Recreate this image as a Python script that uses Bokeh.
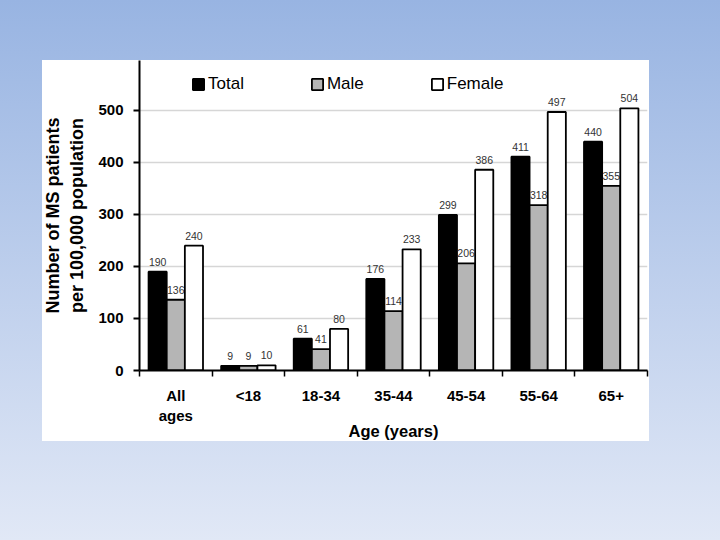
from bokeh.plotting import figure
from bokeh.models import Range1d, FixedTicker, Legend, LegendItem, ColumnDataSource, GlobalInlineStyleSheet
from bokeh.core.properties import value
from bokeh.embed import file_html
from bokeh.resources import INLINE

# ---- data ----
categories = ["All\nages", "<18", "18-34", "35-44", "45-54", "55-64", "65+"]
total = [190, 9, 61, 176, 299, 411, 440]
male = [136, 9, 41, 114, 206, 318, 355]
female = [240, 10, 80, 233, 386, 497, 504]
y_ticks = [0, 100, 200, 300, 400, 500]
series_names = ["Total", "Male", "Female"]

FONT = "Liberation Sans"
n = len(categories)
centers = [i + 0.5 for i in range(n)]
bar_w = 0.25
offsets = [-bar_w, 0.0, bar_w]
fills = ["#000000", "#b5b5b5", "#ffffff"]
series = [total, male, female]

p = figure(width=712, height=532, x_range=Range1d(0, n), y_range=Range1d(0, 596),
           output_backend="svg", toolbar_location=None,
           min_border_left=139, min_border_right=65, min_border_top=60, min_border_bottom=162)
p.background_fill_color = "white"
p.border_fill_color = None
p.outline_line_color = None
p.styles = {"background": "linear-gradient(#ffffff, #ffffff) 42px 60px / 607px 381px no-repeat"}
p.stylesheets = [GlobalInlineStyleSheet(css="html{min-height:100%;background:linear-gradient(to bottom,#98b4e2,#e1e8f6) no-repeat fixed;} body{background:transparent;}")]

# grid
p.xgrid.visible = False
p.ygrid.ticker = FixedTicker(ticks=y_ticks)
p.ygrid.grid_line_color = "#d6d6d6"
p.ygrid.grid_line_width = 1.5

# bars + labels
renderers = []
for vals, off, fc in zip(series, offsets, fills):
    xs = [c + off for c in centers]
    src = ColumnDataSource(dict(x=xs, top=vals, lab=[str(v) for v in vals]))
    r = p.vbar(x="x", top="top", width=bar_w, source=src, fill_color=fc,
               line_color="black", line_width=1.8)
    renderers.append(r)
    p.text(x="x", y="top", text="lab", source=src, text_align="center", text_baseline="bottom",
           y_offset=-6, text_font_size="10.5px", text_color="#333333", text_font=value(FONT))

# x axis
xa = p.xaxis[0]
xa.ticker = FixedTicker(ticks=centers, minor_ticks=list(range(n + 1)))
xa.major_label_overrides = {c: lab for c, lab in zip(centers, categories)}
xa.major_tick_out = 0
xa.major_tick_in = 0
xa.minor_tick_out = 6
xa.minor_tick_in = 0
xa.minor_tick_line_color = "black"
xa.minor_tick_line_width = 1.5
xa.axis_line_width = 2
xa.axis_line_color = "black"
xa.major_label_text_font = FONT
xa.major_label_text_font_size = "15px"
xa.major_label_text_font_style = "bold"
xa.major_label_text_color = "black"
xa.major_label_standoff = 10
xa.axis_label = "Age (years)"
xa.axis_label_text_font = FONT
xa.axis_label_text_font_size = "16.5px"
xa.axis_label_text_font_style = "bold"
xa.axis_label_text_color = "black"
xa.axis_label_standoff = -5

# y axis
ya = p.yaxis[0]
ya.ticker = FixedTicker(ticks=y_ticks)
ya.major_tick_out = 6
ya.major_tick_in = 0
ya.minor_tick_out = 0
ya.minor_tick_in = 0
ya.major_tick_line_width = 2
ya.axis_line_width = 2
ya.axis_line_color = "black"
ya.major_label_text_font = FONT
ya.major_label_text_font_size = "15px"
ya.major_label_text_font_style = "bold"
ya.major_label_text_color = "black"
ya.major_label_standoff = 10
ya.axis_label = "Number of MS patients\nper 100,000 population"
ya.axis_label_text_font = FONT
ya.axis_label_text_font_size = "18px"
ya.axis_label_text_font_style = "bold"
ya.axis_label_text_color = "black"
ya.axis_label_standoff = 8

legend = Legend(items=[LegendItem(label=nm, renderers=[r]) for nm, r in zip(series_names, renderers)],
                orientation="horizontal", location=(52, 276), spacing=66,
                glyph_width=14, glyph_height=14, label_standoff=3, padding=0, margin=0,
                background_fill_alpha=0, border_line_color=None,
                label_text_font_size="17px", label_text_font=FONT, label_text_color="black")
p.add_layout(legend)

open("out.html", "w").write(file_html(p, INLINE))
